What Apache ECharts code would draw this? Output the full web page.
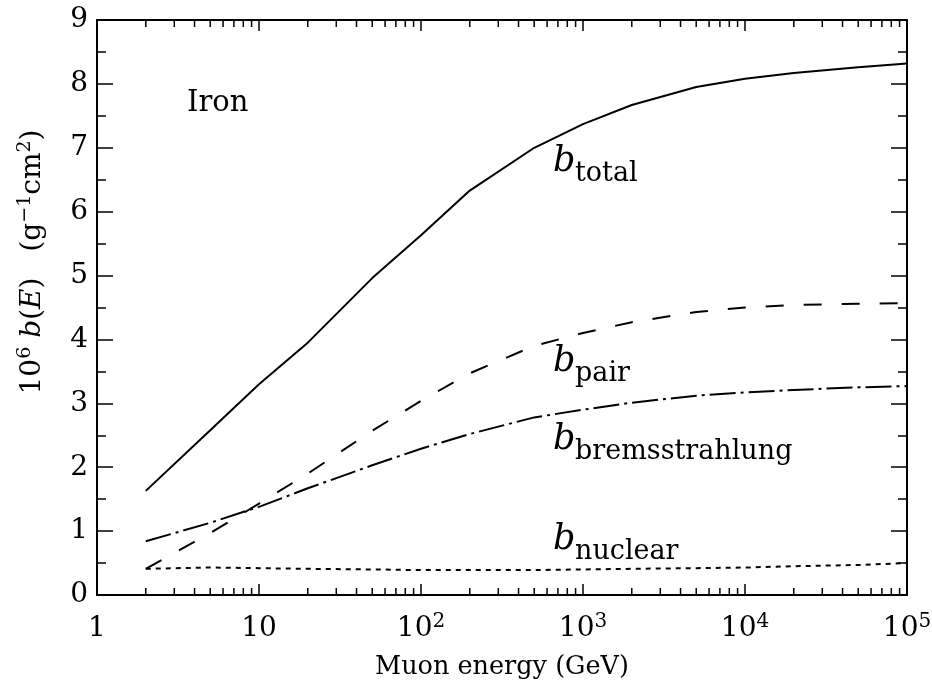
<!DOCTYPE html>
<html>
<head>
<meta charset="utf-8">
<script src="https://cdn.jsdelivr.net/npm/echarts@6/dist/echarts.min.js"></script>
<style>
  html, body { margin: 0; padding: 0; background: #fff; }
  #chart { width: 932px; height: 689px; }
</style>
</head>
<body>
<div id="chart"></div>
<script>
// muon energy (GeV) and energy-loss coefficients, 10^6 b(E) in g^-1 cm^2
const energy = [2, 5, 10, 20, 50, 100, 200, 500, 1000, 2000, 5000, 10000, 20000, 50000, 100000]
const bTotal = [1.63, 2.58, 3.30, 3.95, 4.96, 5.63, 6.33, 7.00, 7.37, 7.67, 7.95, 8.08, 8.17, 8.26, 8.32]
const bPair = [0.41, 0.97, 1.43, 1.90, 2.57, 3.04, 3.47, 3.90, 4.10, 4.27, 4.43, 4.50, 4.54, 4.56, 4.57]
const bBrems = [0.84, 1.13, 1.38, 1.67, 2.03, 2.29, 2.52, 2.78, 2.90, 3.01, 3.12, 3.17, 3.21, 3.25, 3.27]
const bNuclear = [0.41, 0.43, 0.42, 0.41, 0.40, 0.39, 0.39, 0.39, 0.40, 0.41, 0.42, 0.43, 0.45, 0.47, 0.50]

const xTickLabels = ['1', '10', '10{sup|2}', '10{sup|3}', '10{sup|4}', '10{sup|5}']
const xMinorTicks = [
  2, 3, 4, 5, 6, 7, 8, 9,
  20, 30, 40, 50, 60, 70, 80, 90,
  200, 300, 400, 500, 600, 700, 800, 900,
  2000, 3000, 4000, 5000, 6000, 7000, 8000, 9000,
  20000, 30000, 40000, 50000, 60000, 70000, 80000, 90000
]
const curveNames = ['total', 'pair', 'bremsstrahlung', 'nuclear']
const materialName = 'Iron'

const FONT = '"DejaVu Serif", "Liberation Serif", serif'
const black = '#000'

const chart = echarts.init(document.getElementById('chart'))

function pairs(values) {
  return energy.map((e, i) => [e, values[i]])
}

function curve(name, values, type) {
  return {
    name,
    type: 'line',
    data: pairs(values),
    symbol: 'none',
    silent: true,
    lineStyle: { color: black, width: 2, type }
  }
}

// where the b_x labels sit: [x of "b", baseline of "b"]
const labelSpots = [[553, 172], [553, 372], [553, 450], [553, 550]]

function bLabel(sub, spot) {
  const [x, base] = spot
  return [
    {
      type: 'text', x, y: base - 10,
      style: { text: 'b', font: 'italic 35px ' + FONT, fill: black, align: 'left', verticalAlign: 'middle' }
    },
    {
      type: 'text', x: x + 22, y: base + 10 - 8,
      style: { text: sub, font: '27px ' + FONT, fill: black, align: 'left', verticalAlign: 'middle' }
    }
  ]
}

const supStyle = { fontSize: 20, fontFamily: FONT, color: black, padding: [0, 0, 15, 0] }

const xBase = {
  type: 'log',
  logBase: 10,
  min: 1,
  max: 100000,
  splitLine: { show: false },
  axisLine: { onZero: false, lineStyle: { color: black, width: 2 } },
  axisTick: { inside: true, length: 11, lineStyle: { color: black, width: 1.5 } }
}
const yBase = {
  type: 'value',
  min: 0,
  max: 9,
  interval: 1,
  splitLine: { show: false },
  axisLine: { onZero: false, lineStyle: { color: black, width: 2 } },
  axisTick: { inside: true, length: 16, lineStyle: { color: black, width: 1.5 } },
  minorTick: { show: true, splitNumber: 2, length: 9, lineStyle: { color: black, width: 1.5 } },
  minorSplitLine: { show: false }
}

chart.setOption({
  animation: false,
  backgroundColor: '#fff',
  grid: { left: 97, right: 25, top: 20, bottom: 94, containLabel: false, outerBoundsMode: 'none' },
  xAxis: [
    {
      ...xBase,
      position: 'bottom',
      name: 'Muon energy (GeV)',
      nameLocation: 'middle',
      nameGap: 56,
      nameTextStyle: { fontFamily: FONT, fontSize: 25.5, color: black },
      axisLabel: {
        margin: 14,
        lineHeight: 40,
        fontFamily: FONT,
        fontSize: 28,
        color: black,
        formatter: (v) => xTickLabels[Math.round(Math.log10(v))] ?? '',
        rich: { sup: supStyle }
      }
    },
    { ...xBase, position: 'top', axisLabel: { show: false } }
  ],
  yAxis: [
    {
      ...yBase,
      position: 'left',
      axisLabel: { margin: 9, fontFamily: FONT, fontSize: 28, color: black }
    },
    { ...yBase, position: 'right', axisLabel: { show: false } }
  ],
  graphic: [
    {
      type: 'text', x: 187, y: 103,
      style: { text: materialName, font: '29px ' + FONT, fill: black, align: 'left', verticalAlign: 'middle' }
    },
    {
      type: 'text', x: 33, y: 262, rotation: Math.PI / 2,
      style: {
        text: '10{sup|6} {it|b}({it|E}){gap| }(g{sup|−1}cm{sup|2})',
        fontFamily: FONT, fontSize: 28, fill: black, align: 'center', verticalAlign: 'middle',
        rich: {
          sup: { fontSize: 19, fontFamily: FONT, fill: black, padding: [0, 0, 15, 0] },
          it: { fontSize: 28, fontFamily: FONT, fontStyle: 'italic', fill: black },
          gap: { fontSize: 28, fontFamily: FONT, width: 26 }
        }
      }
    },
    ...curveNames.flatMap((n, i) => bLabel(n, labelSpots[i]))
  ],
  series: [
    curve('total', bTotal, 'solid'),
    curve('pair', bPair, [18, 20]),
    curve('bremsstrahlung', bBrems, [26, 5, 3, 5]),
    curve('nuclear', bNuclear, [5, 5]),
    {
      // log-axis minor ticks at 2..9 of every decade, bottom and top
      type: 'custom',
      silent: true,
      clip: false,
      data: xMinorTicks.map((v) => [v, 0]),
      encode: { x: 0, y: 1 },
      renderItem: (params, api) => {
        const bottom = api.coord([api.value(0), 0])
        const top = api.coord([api.value(0), 9])
        const st = { stroke: black, lineWidth: 1.5 }
        return {
          type: 'group',
          children: [
            { type: 'line', shape: { x1: bottom[0], y1: bottom[1], x2: bottom[0], y2: bottom[1] - 7 }, style: st },
            { type: 'line', shape: { x1: top[0], y1: top[1], x2: top[0], y2: top[1] + 7 }, style: st }
          ]
        }
      }
    }
  ]
})
</script>
</body>
</html>
